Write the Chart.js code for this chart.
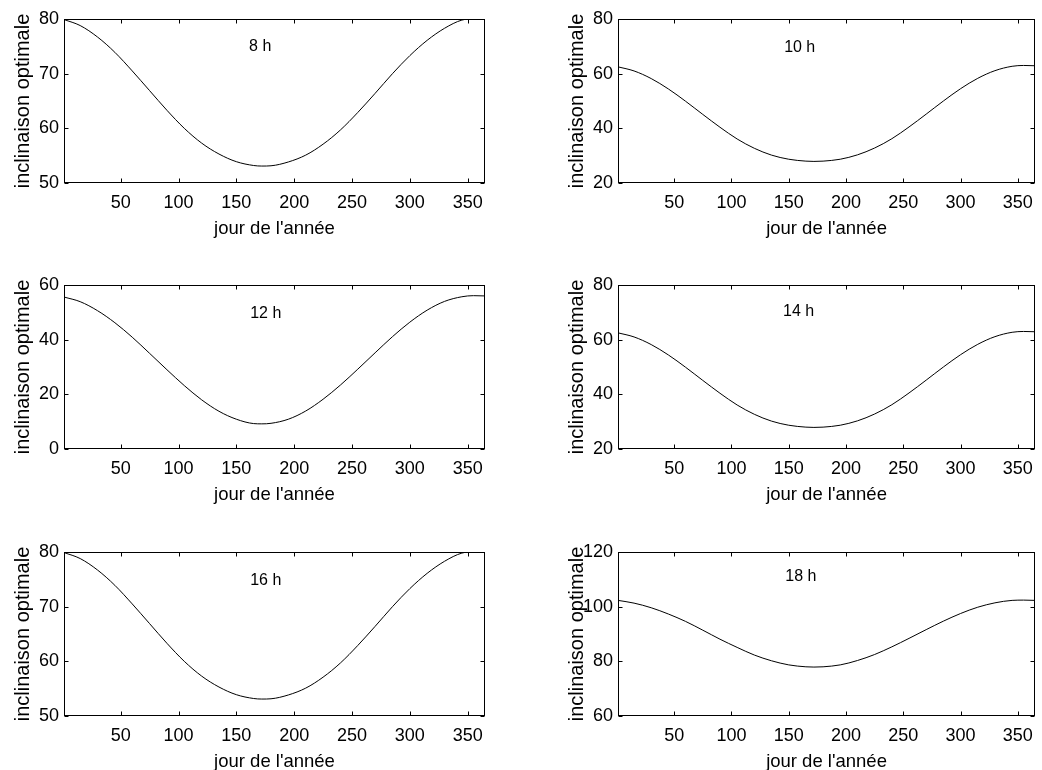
<!DOCTYPE html>
<html lang="fr">
<head>
<meta charset="utf-8">
<title>Inclinaison optimale</title>
<script src="https://cdn.jsdelivr.net/npm/chart.js@4.4.1/dist/chart.umd.min.js"></script>
<style>
    html, body { margin: 0; padding: 0; background: #fff; width: 1042px; height: 770px; overflow: hidden; }
    canvas { position: absolute; left: 0; top: 0; }
</style>
</head>
<body>
<div id="figure"></div>
<script>
// jour de l'année
const days = [1, 15, 30, 45, 60, 75, 90, 105, 120, 135, 150, 165, 172, 180, 195, 210, 225, 240, 255, 270, 285, 300, 315, 330, 345, 355, 365];

// inclinaison optimale (degrés) pour chaque heure
const incl8h  = [79.9, 78.8, 76.7, 73.9, 70.5, 66.9, 63.3, 60.0, 57.3, 55.3, 53.9, 53.2, 53.1, 53.15, 53.85, 55.1, 57.1, 59.7, 62.9, 66.4, 70.0, 73.3, 76.1, 78.3, 79.8, 80.0, 80.0];
const incl10h = [62.5, 61.0, 58.2, 54.4, 49.9, 45.1, 40.4, 36.1, 32.7, 30.2, 28.7, 28.0, 27.9, 28.0, 28.7, 30.3, 32.8, 36.2, 40.5, 45.2, 50.0, 54.5, 58.3, 61.1, 62.7, 63.0, 62.9];
const incl12h = [55.6, 53.9, 50.6, 46.2, 40.9, 35.0, 29.0, 23.2, 18.0, 13.8, 10.9, 9.3, 9.2, 9.4, 10.9, 13.9, 18.2, 23.4, 29.2, 35.2, 41.1, 46.4, 50.8, 54.0, 55.7, 56.1, 56.0];
const incl14h = [62.5, 61.0, 58.2, 54.4, 49.9, 45.1, 40.4, 36.1, 32.7, 30.2, 28.7, 28.0, 27.9, 28.0, 28.7, 30.3, 32.8, 36.2, 40.5, 45.2, 50.0, 54.5, 58.3, 61.1, 62.7, 63.0, 62.9];
const incl16h = [79.9, 78.8, 76.7, 73.9, 70.5, 66.9, 63.3, 60.0, 57.3, 55.3, 53.9, 53.2, 53.1, 53.15, 53.85, 55.1, 57.1, 59.7, 62.9, 66.4, 70.0, 73.3, 76.1, 78.3, 79.8, 80.0, 80.0];
const incl18h = [102.3, 101.3, 99.6, 97.3, 94.6, 91.4, 88.1, 85.1, 82.3, 80.2, 78.7, 78.0, 77.9, 78.0, 78.7, 80.3, 82.5, 85.3, 88.4, 91.6, 94.7, 97.5, 99.8, 101.4, 102.3, 102.4, 102.3];

// graduations
const xTicks = [50, 100, 150, 200, 250, 300, 350];
const yTicks8h  = [50, 60, 70, 80];
const yTicks10h = [20, 40, 60, 80];
const yTicks12h = [0, 20, 40, 60];
const yTicks14h = [20, 40, 60, 80];
const yTicks16h = [50, 60, 70, 80];
const yTicks18h = [60, 80, 100, 120];

const hourLabels = ['8 h', '10 h', '12 h', '14 h', '16 h', '18 h'];

const FONT = '"Liberation Sans", Arial, Helvetica, sans-serif';
const PAGE_W = 1042, PAGE_H = 780;
const PLOT_W = 421, PLOT_H = 164;
const Y_AXIS_W = 64, X_AXIS_H = 58;
const colLeft = [64, 618];
const rowTop = [19, 285, 552];

// subplot grid, read row by row
const panels = [
    { values: incl8h,  yTicks: yTicks8h,  label: hourLabels[0], at: [161, 75] },
    { values: incl10h, yTicks: yTicks10h, label: hourLabels[1], at: [146, 69.5] },
    { values: incl12h, yTicks: yTicks12h, label: hourLabels[2], at: [162, 49.5] },
    { values: incl14h, yTicks: yTicks14h, label: hourLabels[3], at: [145, 70.2] },
    { values: incl16h, yTicks: yTicks16h, label: hourLabels[4], at: [162, 74.7] },
    { values: incl18h, yTicks: yTicks18h, label: hourLabels[5], at: [147, 110.9] }
];

// box around the axes with inward tick marks, plus the hour text
const framePlugin = {
    id: 'frame',
    afterDraw(chart, args, opts) {
        const { ctx, chartArea: a, scales: { x, y } } = chart;
        const L = Math.round(a.left) + 0.5;
        const R = Math.round(a.right) - 0.5;
        const T = Math.round(a.top) + 0.5;
        const B = Math.round(a.bottom) - 0.5;
        const len = 4;

        ctx.save();
        ctx.strokeStyle = '#000';
        ctx.lineWidth = 1;
        ctx.strokeRect(L, T, R - L, B - T);

        ctx.beginPath();
        x.ticks.forEach(t => {
            const px = Math.round(x.getPixelForValue(t.value)) + 0.5;
            ctx.moveTo(px, B); ctx.lineTo(px, B - len);
            ctx.moveTo(px, T); ctx.lineTo(px, T + len);
        });
        y.ticks.forEach(t => {
            const py = Math.round(y.getPixelForValue(t.value)) + 0.5;
            ctx.moveTo(L, py); ctx.lineTo(L + len, py);
            ctx.moveTo(R, py); ctx.lineTo(R - len, py);
        });
        ctx.stroke();

        if (opts.text) {
            ctx.fillStyle = '#000';
            ctx.font = '16px ' + FONT;
            ctx.textAlign = 'left';
            ctx.textBaseline = 'middle';
            ctx.fillText(opts.text, x.getPixelForValue(opts.at[0]), y.getPixelForValue(opts.at[1]));
        }
        ctx.restore();
    }
};

function fixedTicks(values) {
    return scale => { scale.ticks = values.map(v => ({ value: v })); };
}

function buildPanel(panel, index) {
    const row = Math.floor(index / 2);
    const col = index % 2;
    const left = colLeft[col];
    const top = rowTop[row];

    const canvas = document.createElement('canvas');
    canvas.width = PAGE_W;
    canvas.height = PAGE_H;
    document.getElementById('figure').appendChild(canvas);

    return new Chart(canvas.getContext('2d'), {
        type: 'line',
        data: {
            datasets: [{
                data: days.map((d, i) => ({ x: d, y: panel.values[i] })),
                borderColor: '#000',
                borderWidth: 1,
                pointRadius: 0,
                fill: false,
                cubicInterpolationMode: 'monotone'
            }]
        },
        options: {
            responsive: false,
            animation: false,
            devicePixelRatio: 1,
            layout: {
                padding: {
                    left: left - Y_AXIS_W,
                    top: top,
                    right: PAGE_W - left - PLOT_W,
                    bottom: PAGE_H - top - PLOT_H - X_AXIS_H
                }
            },
            plugins: {
                legend: { display: false },
                tooltip: { enabled: false },
                frame: { text: panel.label, at: panel.at }
            },
            scales: {
                x: {
                    type: 'linear',
                    min: 1,
                    max: 365,
                    afterBuildTicks: fixedTicks(xTicks),
                    afterFit: s => { s.height = X_AXIS_H; },
                    grid: { display: false, drawTicks: false },
                    border: { display: false },
                    ticks: {
                        color: '#000',
                        padding: 9,
                        maxRotation: 0,
                        font: { family: FONT, size: 18 }
                    },
                    title: {
                        display: true,
                        text: "jour de l'année",
                        color: '#000',
                        padding: { top: 0, bottom: 1 },
                        font: { family: FONT, size: 18.5 }
                    }
                },
                y: {
                    type: 'linear',
                    min: panel.yTicks[0],
                    max: panel.yTicks[panel.yTicks.length - 1],
                    afterBuildTicks: fixedTicks(panel.yTicks),
                    afterFit: s => { s.width = Y_AXIS_W; },
                    grid: { display: false, drawTicks: false },
                    border: { display: false },
                    ticks: {
                        color: '#000',
                        padding: 5,
                        font: { family: FONT, size: 18 }
                    },
                    title: {
                        display: true,
                        text: 'inclinaison optimale',
                        color: '#000',
                        padding: { top: 11, bottom: 0 },
                        font: { family: FONT, size: 20 }
                    }
                }
            }
        },
        plugins: [framePlugin]
    });
}

document.addEventListener('DOMContentLoaded', () => {
    window.panelCharts = panels.map(buildPanel);
});
</script>
</body>
</html>
